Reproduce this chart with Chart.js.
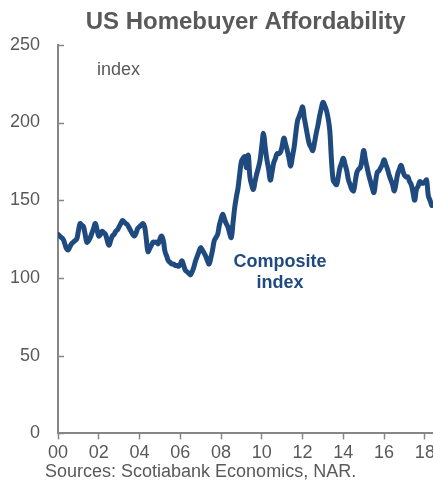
<!DOCTYPE html>
<html><head><meta charset="utf-8">
<script src="https://cdn.jsdelivr.net/npm/chart.js@4/dist/chart.umd.min.js"></script>
<style>html,body{margin:0;padding:0;background:#fff;overflow:hidden}#wrap{width:433px;height:485px;position:relative;overflow:hidden}</style>
</head><body><div id="wrap"><canvas id="c" width="438" height="485"></canvas></div>
<script>
// Monthly composite affordability index, Jan 2000 .. May 2018
const composite = [
  128,127,126,125,122,119,118,120,122,123,124,125,   // 2000
  130,135,134,133,128,123,124,126,129,132,135,131,   // 2001
  127,128,130,129,128,124,121,124,127,128,130,131,   // 2002
  133,135,137,136,135,134,132,130,128,127,129,132,   // 2003
  133,134,135,133,125,117,119,121,123,123,123,122,   // 2004
  125,127,124,117,114,111,110,109,109,108,108,107.5, // 2005
  109,111,108,105,104,103,102,104,107,111,114,117,   // 2006
  119.5,118,116,114,111,109,113,118,124,126,128,134, // 2007
  138,141,138,135,133,129,126,135,145,152,158,167,   // 2008
  175,177,178,171,179,165,160,157,162,167,171,176,   // 2009
  185,193,184,176,170,163,168,174,177,180,180,181,   // 2010
  185,190,186,182,177,172,178,184,193,201,204,207,   // 2011
  210,203,197,191,186,184,182,187,193,198,204,209,   // 2012
  213,211,208,203,195,176,163,161,160,165,171,174,   // 2013
  177,173,169,163,160,157,156,162,168,170,171,176,   // 2014
  182,176,171,166,162,158,155,162,168,169,171,173,   // 2015
  176,173,170,166,163,160,156,161,167,170,172.5,169, // 2016
  166,165,165,162,160,155,150,157,159,162,161,161,   // 2017
  162,163,153,150,146.6                              // 2018
];
const tickMonths = [0,24,48,72,96,120,144,168,192,216];
const tickLabels = ['00','02','04','06','08','10','12','14','16','18'];
const yTickValues = [0,50,100,150,200,250];

const FONT = '"Liberation Sans", Arial, sans-serif';
const GREY = '#595959';
const AXIS = '#868686';
const BLUE = '#1F4A7F';

const points = composite.map((v, i) => ({x: i, y: v}));

const extras = {
  id: 'extras',
  afterDraw(chart) {
    const ctx = chart.ctx;
    const ys = chart.scales.y;
    const area = chart.chartArea;
    ctx.save();
    // inward y ticks
    ctx.strokeStyle = AXIS;
    ctx.lineWidth = 1.5;
    yTickValues.forEach(v => {
      const py = Math.round(ys.getPixelForValue(v)) + 0.5;
      ctx.beginPath();
      ctx.moveTo(area.left, py);
      ctx.lineTo(area.left + 6, py);
      ctx.stroke();
    });
    // annotations
    ctx.fillStyle = GREY;
    ctx.font = '18px ' + FONT;
    ctx.textBaseline = 'middle';
    ctx.textAlign = 'left';
    ctx.fillText('index', 97, 70);
    ctx.fillStyle = BLUE;
    ctx.font = 'bold 18px ' + FONT;
    ctx.textAlign = 'center';
    ctx.fillText('Composite', 280, 262);
    ctx.fillText('index', 280, 283);
    // source
    ctx.fillStyle = GREY;
    ctx.font = '18px ' + FONT;
    ctx.textAlign = 'left';
    ctx.fillText('Sources: Scotiabank Economics, NAR.', 45, 472);
    ctx.restore();
  }
};

new Chart(document.getElementById('c'), {
  type: 'line',
  data: {
    datasets: [{
      data: points,
      borderColor: BLUE,
      borderWidth: 5,
      pointRadius: 0,
      tension: 0.4,
      borderJoinStyle: 'round',
      borderCapStyle: 'round',
      fill: false
    }]
  },
  options: {
    responsive: false,
    animation: false,
    devicePixelRatio: 1,
    layout: {padding: {left: 10, right: 0, top: 0, bottom: 18}},
    plugins: {
      legend: {display: false},
      tooltip: {enabled: false},
      title: {
        display: true,
        text: 'US Homebuyer Affordability',
        color: GREY,
        fullSize: false,
        font: {family: FONT, size: 24, weight: 'bold'},
        padding: {top: 8, bottom: 8}
      }
    },
    scales: {
      x: {
        type: 'linear',
        min: 0,
        max: 221,
        afterBuildTicks: s => { s.ticks = tickMonths.map(v => ({value: v})); },
        ticks: {
          color: GREY,
          font: {family: FONT, size: 18},
          padding: 3,
          maxRotation: 0,
          autoSkip: false,
          callback: (v) => tickLabels[tickMonths.indexOf(v)]
        },
        grid: {display: true, drawOnChartArea: false, drawTicks: true, tickLength: 6, tickColor: AXIS, tickWidth: 1.5},
        border: {display: true, color: AXIS, width: 2}
      },
      y: {
        min: 0,
        max: 250,
        afterBuildTicks: s => { s.ticks = yTickValues.map(v => ({value: v})); },
        afterFit: s => { s.width = 48; },
        ticks: {
          color: GREY,
          font: {family: FONT, size: 18},
          padding: 18
        },
        grid: {display: true, drawOnChartArea: false, drawTicks: false},
        border: {display: true, color: AXIS, width: 2}
      }
    }
  },
  plugins: [extras]
});
</script>
</body></html>
